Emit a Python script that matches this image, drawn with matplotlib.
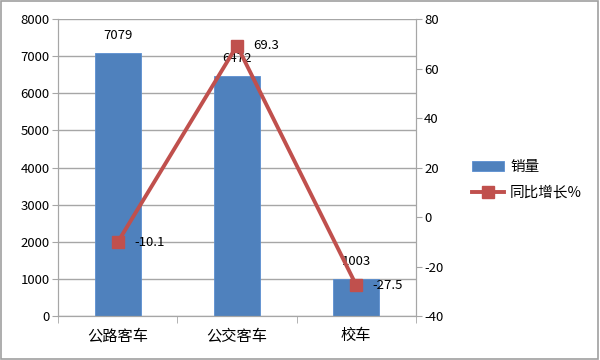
import numpy as np
import matplotlib
matplotlib.use('Agg')
import matplotlib.pyplot as plt
from matplotlib.patches import Rectangle

plt.rcParams['font.family'] = ['Noto Sans CJK SC', 'DejaVu Sans']
plt.rcParams['axes.unicode_minus'] = False

# 数据
categories = ['公路客车', '公交客车', '校车']
sales = [7079, 6472, 1003]
growth = [-10.1, 69.3, -27.5]

bar_color = '#4F81BD'
line_color = '#C0504D'
grid_color = '#A6A6A6'

fig = plt.figure(figsize=(6, 3.6), dpi=100)
ax = fig.add_axes([0.097, 0.122, 0.596, 0.825])
ax2 = ax.twinx()

x = np.arange(len(categories))
bars = ax.bar(x, sales, width=0.39, color=bar_color, edgecolor='#5B8FD0', linewidth=0.6,
              label='销量', zorder=2)
ax.set_xlim(-0.5, 2.5)
ax.set_ylim(0, 8000)
ax.set_yticks(np.arange(0, 8001, 1000))
ax.yaxis.grid(True, color=grid_color, linewidth=1)
ax.set_axisbelow(True)

# x轴刻度在分类之间
ax.set_xticks(x)
ax.set_xticklabels(categories, fontsize=11)
ax.set_xticks(np.arange(-0.5, 2.6, 1), minor=True)
ax.tick_params(axis='x', which='major', length=0, pad=8)
ax.tick_params(axis='x', which='minor', length=5, color=grid_color)
ax.tick_params(axis='y', length=4, color=grid_color, labelsize=9.5, pad=2)

for s in ['top']:
    ax.spines[s].set_visible(False)
    ax2.spines[s].set_visible(False)
for s in ['left', 'bottom', 'right']:
    ax.spines[s].set_color(grid_color)
    ax2.spines[s].set_color(grid_color)

for b, v in zip(bars, sales):
    ax.text(b.get_x() + b.get_width() / 2, v + 300, str(v), ha='center', va='bottom', fontsize=9.5)

ax2.plot(x, growth, color=line_color, linewidth=2.8, marker='s', markersize=9,
         label='同比增长%', zorder=3)
ax2.set_ylim(-40, 80)
ax2.set_yticks(np.arange(-40, 81, 20))
ax2.tick_params(axis='y', length=4, color=grid_color, labelsize=9.5, pad=2)
for xi, g in zip(x, growth):
    ax2.text(xi + 0.14, g, str(g), ha='left', va='center', fontsize=9.5)

h1, l1 = ax.get_legend_handles_labels()
h2, l2 = ax2.get_legend_handles_labels()
fig.legend(h1 + h2, l1 + l2, loc='center left', bbox_to_anchor=(0.765, 0.5),
           frameon=False, fontsize=10.5, handlelength=2.2, labelspacing=0.8, handletextpad=0.4)

fig.patches.append(Rectangle((0.002, 0.003), 0.995, 0.993, transform=fig.transFigure,
                             fill=False, edgecolor='#A0A0A0', linewidth=1.2))

fig.savefig('out.png', dpi=100)
